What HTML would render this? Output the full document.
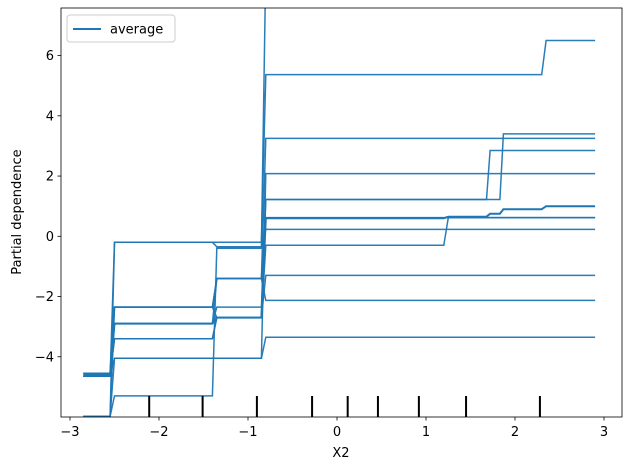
<!DOCTYPE html>
<html><head><meta charset="utf-8"><style>body{margin:0;background:#fff}svg text{font-family:"DejaVu Sans","Liberation Sans",sans-serif;font-size:13px;fill:#000}</style></head>
<body>
<svg id="chart" width="630" height="470" xmlns="http://www.w3.org/2000/svg"></svg>
<script>
const xGrid=[-2.85,-2.55,-2.5,-1.4,-1.35,-0.85,-0.8,1.2,1.25,1.68,1.72,1.83,1.87,2.3,2.35,2.9];
// segment values: seg0, seg1, seg2, seg3, after1.2, after1.7, after1.85, after2.3
const iceLines=[
[-5.98,-0.2,-0.2,5.37,5.37,5.37,5.37,6.5],
[-5.98,-2.35,-1.4,3.25,3.25,3.25,3.25,3.25],
[-4.55,-2.9,-2.35,1.22,1.22,2.85,2.85,2.85],
[-4.65,-3.4,-2.7,1.22,1.22,1.22,3.4,3.4],
[-4.65,-4.05,-4.05,2.08,2.08,2.08,2.08,2.08],
[-5.98,-5.3,-0.4,0.23,0.23,0.23,0.23,0.23],
[-4.55,-2.35,-2.7,-1.3,-1.3,-1.3,-1.3,-1.3],
[-4.65,-2.9,-1.4,-2.13,-2.13,-2.13,-2.13,-2.13],
[-5.98,-4.05,-4.05,-3.35,-3.35,-3.35,-3.35,-3.35],
[-4.65,-0.2,-0.35,9,9,9,9,9],
[-4.55,-3.4,-2.7,-0.3,0.62,0.62,0.62,0.62],
[-4.65,-2.35,-1.4,0.62,0.62,0.62,0.62,0.62]
];
const averageLine=[-4.6,-2.9,-2.7,0.6,0.65,0.75,0.9,1.0];
const rugValues=[-2.11,-1.51,-0.9,-0.28,0.12,0.46,0.92,1.45,2.28];
const xTicks=[-3,-2,-1,0,1,2,3];
const yTicks=[-4,-2,0,2,4,6];
const L=61,R=622,T=8,B=417,yMin=-6.0,yMax=7.58;
const sx=v=>337+v*89, sy=v=>B-(v-yMin)/(yMax-yMin)*(B-T);
const svg=document.getElementById('chart');const NS='http://www.w3.org/2000/svg';
function mk(t,a,p){const e=document.createElementNS(NS,t);for(const k in a)e.setAttribute(k,a[k]);(p||svg).appendChild(e);return e;}
const defs=mk('defs',{});const cp=mk('clipPath',{id:'c'},defs);mk('rect',{x:L,y:T,width:R-L,height:B-T},cp);
const g=mk('g',{'clip-path':'url(#c)'});
function expand(s){const idx=[0,0,1,1,2,2,3,3,4,4,5,5,6,6,7,7];return idx.map(i=>s[i]);}
function pts(s){const v=expand(s);return xGrid.map((x,i)=>sx(x).toFixed(1)+','+sy(v[i]).toFixed(1)).join(' ');}
iceLines.forEach((s,i)=>{const p=mk('polyline',{points:pts(s),fill:'none',stroke:'#1f77b4','stroke-width':1.5,'stroke-opacity':0.95},g);

});
const av=mk('polyline',{points:pts(averageLine),fill:'none',stroke:'#1f77b4','stroke-width':2},g);


rugValues.forEach(v=>{const r=mk('line',{x1:sx(v),x2:sx(v),y1:396,y2:B,stroke:'#000','stroke-width':2});

});
mk('rect',{x:L,y:T,width:R-L,height:B-T,fill:'none',stroke:'#000','stroke-width':0.8});
xTicks.forEach(v=>{const x=sx(v);mk('line',{x1:x,x2:x,y1:B,y2:B+3.5,stroke:'#000','stroke-width':0.8});
const t=mk('text',{x:x,y:B+19,'text-anchor':'middle'});t.textContent=v<0?'\u2212'+(-v):v;

});
yTicks.forEach(v=>{const y=sy(v);mk('line',{x1:L-3.5,x2:L,y1:y,y2:y,stroke:'#000','stroke-width':0.8});
const t=mk('text',{x:L-7,y:y+4.5,'text-anchor':'end'});t.textContent=v<0?'\u2212'+(-v):v;

});
</script>
<svg style="position:absolute;left:0;top:0" width="630" height="470">
<text x="341" y="457" text-anchor="middle">X2</text>
<text transform="translate(21,212) rotate(-90)" text-anchor="middle">Partial dependence</text>
<g>
<rect x="67" y="15" width="108" height="27" rx="3" fill="#fff" fill-opacity="0.8" stroke="#ccc" stroke-width="1"/>
<line x1="73" x2="101" y1="29" y2="29" stroke="#1f77b4" stroke-width="2"/>
<text x="110" y="33.5">average</text>
</g>
</svg>
</body></html>
